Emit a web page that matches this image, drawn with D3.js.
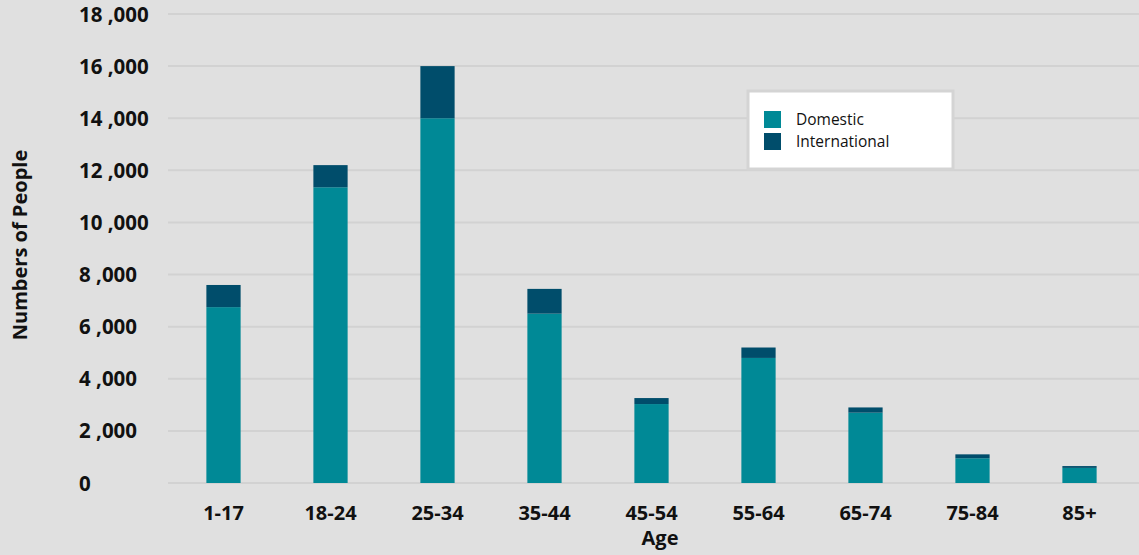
<!DOCTYPE html>
<html><head><meta charset="utf-8">
<script src="https://cdn.jsdelivr.net/npm/d3@7/dist/d3.min.js"></script>
<style>body{margin:0;background:#e0e0e0;} svg{display:block;}</style>
</head><body><svg id="c" width="1139" height="555"></svg>
<script>
const categories = ["1-17","18-24","25-34","35-44","45-54","55-64","65-74","75-84","85+"];
const domestic = [6750, 11350, 14000, 6500, 3030, 4800, 2700, 950, 580];
const international = [850, 850, 2000, 950, 230, 400, 200, 150, 70];
const yTicks = [0,2000,4000,6000,8000,10000,12000,14000,16000,18000];
const seriesNames = ["Domestic","International"];
const colors = ["#008996","#004d6b"];

const svg = d3.select("#c");
const W = 1139, H = 555;
const FONT = "'Open Sans'";
const x = d3.scaleBand().domain(categories).range([170, 1133]).paddingInner(0.68).paddingOuter(0.34);
const y = d3.scaleLinear().domain([0,18000]).range([483, 14]);

svg.append("rect").attr("width",W).attr("height",H).attr("fill","#e0e0e0");

svg.append("g").selectAll("line").data(yTicks).join("line")
  .attr("x1",168).attr("x2",W).attr("y1",d=>y(d)).attr("y2",d=>y(d))
  .attr("stroke","#d2d2d2").attr("stroke-width",2);

const fmt = d => d===0 ? "0" : d3.format(",")(d).replace(",", " ,");
svg.append("g").selectAll("text").data(yTicks).join("text")
  .attr("x",79).attr("y",d=>y(d)+7.5).text(fmt)
  .attr("font-family",FONT).attr("font-weight","700").attr("font-size",20.5)
  .attr("fill","#111");

const rows = categories.map((c,i)=>({cat:c, Domestic:domestic[i], International:international[i]}));
const stack = d3.stack().keys(seriesNames)(rows);
svg.append("g").selectAll("g").data(stack).join("g").attr("fill",(d,i)=>colors[i])
  .selectAll("rect").data(d=>d).join("rect")
  .attr("x",d=>x(d.data.cat)).attr("width",x.bandwidth())
  .attr("y",d=>y(d[1])).attr("height",d=>y(d[0])-y(d[1]));

const xAxis = d3.axisBottom(x).tickSize(0).tickPadding(0);
const gx = svg.append("g").attr("transform","translate(0,520)").call(xAxis);
gx.select(".domain").remove();
gx.selectAll("text").attr("font-family",FONT).attr("font-weight","700").attr("font-size",20)
  .attr("fill","#111").attr("dy","0");

svg.append("text").attr("x",660).attr("y",545).attr("text-anchor","middle").text("Age")
  .attr("font-family",FONT).attr("font-weight","700").attr("font-size",20).attr("fill","#111");
svg.append("text").attr("transform","translate(27,245) rotate(-90)").attr("text-anchor","middle")
  .text("Numbers of People")
  .attr("font-family",FONT).attr("font-weight","700").attr("font-size",20).attr("fill","#111");

const lg = svg.append("g");
lg.append("rect").attr("x",748).attr("y",91).attr("width",205).attr("height",78)
  .attr("fill","#fff").attr("stroke","#d4d4d4").attr("stroke-width",3);
seriesNames.forEach((s,i)=>{
  lg.append("rect").attr("x",764).attr("y",111+i*22).attr("width",17).attr("height",17).attr("fill",colors[i]);
  lg.append("text").attr("x",796).attr("y",124.5+i*22).text(s)
    .attr("font-family",FONT).attr("font-size",15.5).attr("fill","#111");
});
</script></body></html>
